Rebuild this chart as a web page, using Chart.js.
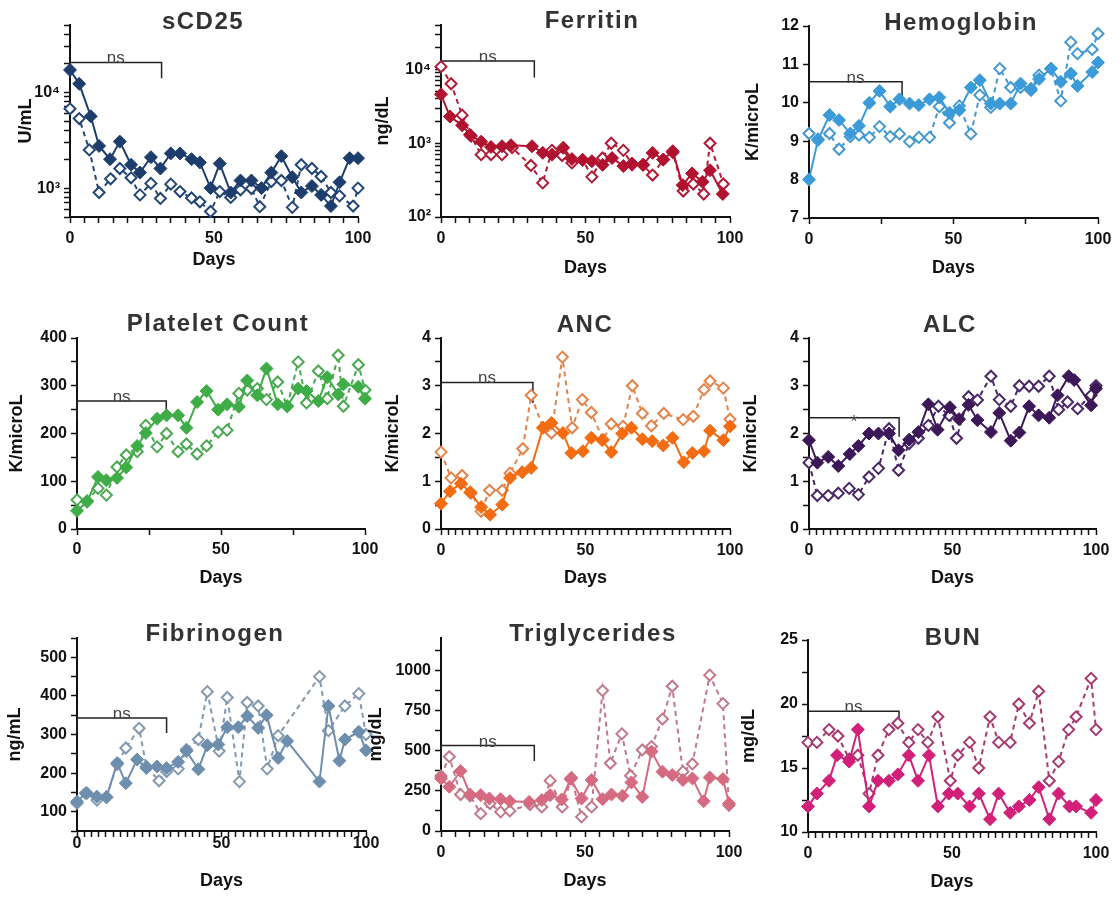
<!DOCTYPE html>
<html>
<head>
<meta charset="utf-8">
<title>Lab values over time</title>
<script src="https://cdn.jsdelivr.net/npm/chart.js@4.4.1/dist/chart.umd.min.js"></script>
<style>
  html, body { margin: 0; padding: 0; background: #fff; }
  body { position: relative; width: 1120px; height: 898px; overflow: hidden; }
  canvas { position: absolute; }
</style>
</head>
<body>
<script>
// x axis labels (days)
const dayLabels = [0, 50, 100];

// sCD25 (U/mL) - A = filled diamonds, B = open diamonds
const scdDaysA = [0, 3.2, 7.2, 10.1, 13.9, 17.3, 21.2, 24.3, 28.1, 31.4, 35.0, 38.2, 42.2, 45.1, 48.8, 52.0, 55.8, 59.2, 63.0, 66.5, 69.9, 73.4, 77.2, 80.3, 84.0, 87.2, 90.6, 93.6, 97.1, 100];
const scdA = [17000, 12200, 5600, 2750, 2000, 3050, 1750, 1450, 2100, 1600, 2300, 2300, 2000, 1850, 1000, 1800, 900, 1200, 1200, 1000, 1450, 2150, 1300, 900, 1050, 850, 650, 1150, 2050, 2050];
const scdDaysB = [0, 3.2, 6.7, 10.1, 14.1, 17.3, 21.2, 24.3, 28.1, 31.4, 35.0, 38.2, 42.2, 45.1, 48.8, 52.0, 55.8, 59.2, 63.0, 65.9, 69.9, 73.4, 77.2, 80.3, 84.0, 87.2, 90.6, 93.6, 98.3, 100];
const scdB = [6700, 5300, 2500, 900, 1250, 1600, 1280, 850, 1120, 780, 1100, 920, 790, 720, 570, 920, 800, 960, 990, 640, 1170, 1200, 630, 1750, 1600, 1320, 900, 830, 650, 1000];
const scdBracket = [31.8, 20400, 13900]; // end day, top, leg bottom

// Ferritin (ng/dL)
const ferDaysA = [0, 3.1, 7.3, 10.0, 13.9, 17.3, 21.1, 24.2, 31.5, 35.2, 38.4, 42.3, 45.3, 49.0, 52.2, 55.9, 59.2, 63.1, 66.1, 70.0, 73.2, 76.9, 80.2, 83.6, 86.9, 90.5, 93.1, 97.5];
const ferA = [4600, 2300, 1750, 1300, 1050, 890, 910, 940, 910, 740, 700, 870, 610, 590, 570, 510, 630, 490, 530, 510, 740, 600, 780, 270, 390, 300, 430, 205];
const ferDaysB = [0, 3.5, 7.3, 10.4, 13.9, 17.3, 21.1, 24.6, 31.1, 35.2, 38.4, 41.9, 45.3, 49.0, 52.2, 55.9, 58.9, 63.1, 66.1, 69.8, 73.2, 76.9, 80.2, 83.8, 87.3, 90.9, 93.1, 97.7];
const ferB = [10900, 6400, 2400, 1250, 700, 700, 700, 870, 500, 290, 800, 680, 540, 600, 350, 630, 1000, 800, 510, 510, 370, 600, 750, 225, 280, 205, 1000, 280];
const ferBracket = [32.3, 13000, 7800];

// Hemoglobin (K/microL)
const hgbDays = [0, 3.1, 7.1, 10.4, 14.3, 17.3, 20.9, 24.4, 28.1, 31.3, 34.8, 38.0, 41.7, 45.1, 48.6, 52.0, 56.0, 59.1, 62.9, 66.0, 69.8, 73.2, 76.8, 79.6, 83.7, 87.1, 90.6, 92.9, 98.0, 100];
const hgbA = [8.0, 9.03, 9.68, 9.55, 9.2, 9.4, 10.0, 10.31, 9.9, 10.09, 9.98, 9.94, 10.09, 10.14, 9.74, 9.81, 10.4, 10.59, 9.98, 9.98, 9.98, 10.5, 10.33, 10.62, 10.89, 10.55, 10.76, 10.44, 10.8, 11.05];
const hgbB = [9.2, 9.05, 9.2, 8.79, 9.12, 9.16, 9.1, 9.38, 9.12, 9.19, 8.99, 9.1, 9.1, 9.9, 9.48, 9.92, 9.19, 10.2, 9.88, 10.89, 10.4, 10.4, 10.37, 10.72, 10.89, 10.05, 11.58, 11.28, 11.39, 11.8];
const hgbBracket = [32.2, 10.55, 10.11];

// Platelet count (K/microL)
const pltDays = [0, 3.5, 7.3, 10.2, 13.9, 17.1, 20.9, 23.9, 27.8, 31.1, 35.1, 38.0, 41.7, 45.0, 49.0, 52.1, 56.2, 59.1, 62.6, 65.8, 69.7, 73.0, 76.8, 79.7, 83.8, 86.9, 90.7, 92.5, 97.7, 100];
const pltA = [38, 57, 109, 102, 107, 129, 174, 201, 231, 238, 238, 212, 266, 289, 250, 261, 256, 311, 280, 336, 261, 257, 294, 289, 268, 318, 282, 303, 298, 273];
const pltB = [61, 59, 85, 71, 130, 155, 162, 217, 172, 200, 162, 178, 157, 174, 203, 207, 284, 291, 294, 271, 308, 257, 350, 264, 331, 273, 364, 257, 344, 291];
const pltBracket = [31, 268, 226];

// ANC (K/microL)
const ancDaysA = [0, 3.1, 6.9, 10.1, 13.9, 17.0, 21.2, 23.9, 28.1, 31.2, 35.3, 38.2, 42.2, 45.1, 49.1, 52.0, 55.8, 58.9, 62.7, 65.9, 69.7, 73.1, 76.9, 80.1, 84.0, 87.0, 91.0, 93.1, 97.7, 100];
const ancA = [0.53, 0.79, 0.95, 0.77, 0.46, 0.30, 0.51, 1.07, 1.19, 1.28, 2.12, 2.22, 2.01, 1.59, 1.63, 1.91, 1.86, 1.61, 2.0, 2.12, 1.88, 1.84, 1.75, 1.91, 1.40, 1.59, 1.63, 2.06, 1.86, 2.15];
const ancDaysB = [0, 3.5, 7.3, 10.4, 13.9, 16.8, 21.2, 23.9, 28.3, 31.2, 35.3, 38.2, 42.0, 45.4, 48.9, 52.0, 56.1, 58.9, 63.0, 66.2, 69.7, 72.8, 77.1, 83.8, 87.3, 91.0, 93.1, 97.7, 100];
const ancB = [1.61, 1.07, 1.12, 0.75, 0.37, 0.81, 0.81, 1.17, 1.68, 2.8, 2.12, 2.01, 3.6, 2.12, 2.71, 2.44, 1.87, 2.2, 2.15, 3.0, 2.42, 2.16, 2.42, 2.29, 2.36, 2.92, 3.1, 2.95, 2.3];
const ancBracket = [31.8, 3.07, 2.64];

// ALC (K/microL)
const alcDaysA = [0, 2.9, 6.7, 10.2, 14.2, 17.2, 20.9, 24.2, 27.9, 31.2, 34.9, 38.1, 41.6, 44.8, 49.1, 52.3, 55.6, 58.7, 63.4, 66.3, 70.3, 73.3, 76.7, 80.0, 83.7, 86.6, 90.5, 92.4, 98.3, 100];
const alcA = [1.86, 1.39, 1.51, 1.32, 1.57, 1.74, 2.0, 2.0, 2.0, 1.65, 1.87, 2.03, 2.61, 2.08, 2.55, 2.3, 2.6, 2.28, 2.03, 2.43, 1.85, 2.02, 2.57, 2.38, 2.33, 2.8, 3.2, 3.12, 2.59, 2.94];
const alcDaysB = [0, 2.9, 6.7, 10.2, 14.0, 17.2, 20.9, 24.2, 27.9, 31.2, 34.9, 38.1, 41.6, 45.1, 48.8, 51.4, 55.6, 58.7, 63.4, 66.3, 70.3, 73.3, 76.7, 80.0, 83.7, 87.0, 90.1, 93.6, 98.3, 100];
const alcB = [1.39, 0.7, 0.7, 0.75, 0.85, 0.72, 1.09, 1.27, 2.1, 1.23, 1.79, 1.9, 2.17, 2.57, 2.38, 1.9, 2.77, 2.7, 3.2, 2.71, 2.57, 3.0, 2.99, 2.99, 3.2, 2.5, 2.66, 2.52, 2.8, 3.0];
const alcBracket = [31.4, 2.33, 1.93];

// Fibrinogen (ng/mL)
const fibDaysA = [0, 3.0, 6.9, 10.2, 13.9, 16.9, 20.8, 24.0, 27.7, 31.0, 35.0, 37.9, 42.0, 45.1, 48.9, 52.0, 55.8, 58.9, 62.7, 65.6, 69.6, 72.7, 83.9, 87.0, 90.8, 92.7, 97.5, 100];
const fibA = [126, 148, 139, 137, 226, 174, 235, 213, 217, 213, 229, 257, 210, 272, 274, 319, 319, 348, 317, 350, 239, 283, 178, 374, 232, 287, 307, 259];
const fibDaysB = [0, 3.5, 6.9, 10.2, 13.9, 16.9, 21.5, 24.0, 28.4, 31.0, 35.0, 37.9, 42.0, 45.1, 49.2, 52.0, 56.2, 58.9, 62.7, 65.8, 69.6, 83.9, 87.0, 92.7, 97.5, 100];
const fibB = [122, 148, 130, 139, 223, 265, 316, 217, 180, 204, 211, 261, 287, 411, 257, 396, 178, 383, 374, 211, 297, 450, 310, 374, 406, 300];
const fibBracket = [31, 343, 304];

// Triglycerides (mg/dL)
const tgDaysA = [0, 2.9, 6.8, 10.1, 13.8, 16.8, 20.7, 23.9, 30.6, 35.0, 37.9, 41.9, 45.0, 48.8, 52.3, 56.1, 59.2, 63.0, 66.1, 69.9, 73.1, 76.9, 80.3, 84.0, 87.3, 91.2, 93.3, 97.9, 100];
const tgA = [327, 275, 373, 227, 223, 202, 198, 185, 181, 192, 223, 196, 323, 202, 317, 198, 227, 219, 302, 212, 494, 369, 348, 317, 327, 185, 333, 323, 171];
const tgDaysB = [0, 2.9, 6.8, 10.1, 13.8, 17.0, 20.7, 23.9, 30.9, 35.0, 37.9, 42.1, 45.3, 48.8, 52.3, 56.1, 58.8, 62.8, 65.8, 69.9, 73.1, 76.9, 80.3, 84.0, 87.3, 93.3, 97.9, 100];
const tgB = [342, 462, 227, 219, 108, 171, 119, 125, 165, 150, 313, 150, 331, 88, 150, 873, 421, 604, 344, 504, 525, 696, 900, 369, 417, 969, 792, 160];
const tgBracket = [32.4, 531, 435];

// BUN (mg/dL)
const bunDaysA = [0, 3.1, 7.3, 10.1, 14.3, 17.3, 21.2, 24.3, 28.1, 31.2, 35.0, 38.2, 42.0, 45.1, 48.9, 52.0, 56.1, 59.3, 63.2, 66.2, 70.2, 73.2, 76.9, 80.1, 83.8, 87.0, 90.8, 93.1, 98.3, 100];
const bunA = [12, 13, 14, 16, 15.5, 18, 12, 14, 14, 14.5, 16, 14, 16, 12, 13, 13, 12, 13, 11, 13, 11.5, 12, 12.5, 13.5, 11, 13, 12, 12, 11.5, 12.5];
const bunDaysB = [0, 3.1, 7.3, 10.4, 14.3, 17.3, 21.2, 24.3, 28.1, 31.2, 35.0, 38.2, 41.6, 45.1, 49.4, 52.0, 56.1, 59.3, 63.2, 66.2, 70.2, 73.2, 76.9, 80.1, 83.8, 87.0, 90.5, 93.1, 98.3, 100];
const bunB = [17, 17, 18, 17.5, 15.7, 16, 13, 16, 18, 18.5, 17, 18, 17, 19, 14, 16, 17, 15, 19, 17, 17, 20, 18.5, 21, 14, 15.5, 18, 19, 22, 18];
const bunBracket = [31.6, 19.44, 18.2];

const FONT = '"Liberation Sans", Arial, Helvetica, sans-serif';
Chart.defaults.font.family = FONT;
Chart.defaults.color = '#111';

// panel setup; box = plot area on the page [left, top, right, bottom]
const panels = [
  { title: 'sCD25', unit: 'U/mL', color: '#1d3e6c', colorB: '#244675',
    daysA: scdDaysA, valsA: scdA, daysB: scdDaysB, valsB: scdB, bracket: scdBracket, note: 'ns',
    log: true, yMin: 500, yMax: 50000, xMinor: 5,
    box: [70, 25, 358, 217], titleAt: [203, 20], yGap: 44, xLabOff: 22, daysOff: 43 },
  { title: 'Ferritin', unit: 'ng/dL', color: '#b11230', colorB: '#b11a36',
    daysA: ferDaysA, valsA: ferA, daysB: ferDaysB, valsB: ferB, bracket: ferBracket, note: 'ns',
    log: true, yMin: 100, yMax: 40000, xMinor: 5,
    box: [441, 25, 730, 217], titleAt: [592, 19], yGap: 58, xLabOff: 22, daysOff: 51 },
  { title: 'Hemoglobin', unit: 'K/microL', color: '#3b9bd8', colorB: '#4298cf',
    daysA: hgbDays, valsA: hgbA, daysB: hgbDays, valsB: hgbB, bracket: hgbBracket, note: 'ns',
    yMin: 7, yMax: 12, yMajor: 1, yMinor: 1, xMinor: 25,
    box: [809, 26, 1098, 218], titleAt: [961, 21], yGap: 56, xLabOff: 22, daysOff: 50 },
  { title: 'Platelet Count', unit: 'K/microL', color: '#3ead47', colorB: '#4aa852',
    daysA: pltDays, valsA: pltA, daysB: pltDays, valsB: pltB, bracket: pltBracket, note: 'ns',
    yMin: 0, yMax: 400, yMajor: 100, yMinor: 50, xMinor: 25,
    box: [77, 338, 365, 529], titleAt: [218, 322], yGap: 60, xLabOff: 21, daysOff: 49 },
  { title: 'ANC', unit: 'K/microL', color: '#f36c12', colorB: '#e2834a',
    daysA: ancDaysA, valsA: ancA, daysB: ancDaysB, valsB: ancB, bracket: ancBracket, note: 'ns',
    yMin: 0, yMax: 4, yMajor: 1, yMinor: 0.5, xMinor: 2.5,
    box: [441, 338, 730, 529], titleAt: [585, 323], yGap: 48, xLabOff: 22, daysOff: 49 },
  { title: 'ALC', unit: 'K/microL', color: '#3d1859', colorB: '#4a2766',
    daysA: alcDaysA, valsA: alcA, daysB: alcDaysB, valsB: alcB, bracket: alcBracket, note: '*',
    yMin: 0, yMax: 4, yMajor: 1, yMinor: 0.5, xMinor: 2.5,
    box: [809, 338, 1096, 529], titleAt: [950, 323], yGap: 58, xLabOff: 22, daysOff: 49 },
  { title: 'Fibrinogen', unit: 'ng/mL', color: '#6e8eae', colorB: '#8399b0',
    daysA: fibDaysA, valsA: fibA, daysB: fibDaysB, valsB: fibB, bracket: fibBracket, note: 'ns',
    yMin: 50, yMax: 550, yMajor: 100, yMinor: 50, xMinor: 2.5,
    box: [77, 638, 366, 831], titleAt: [215, 632], yGap: 62, xLabOff: 13, daysOff: 50 },
  { title: 'Triglycerides', unit: 'mg/dL', color: '#d56a80', colorB: '#c0788a',
    daysA: tgDaysA, valsA: tgA, daysB: tgDaysB, valsB: tgB, bracket: tgBracket, note: 'ns',
    yMin: 0, yMax: 1200, yMajor: 250, yMinor: 125, xMinor: 5,
    box: [441, 638, 729, 831], titleAt: [593, 632], yGap: 65, xLabOff: 22, daysOff: 50 },
  { title: 'BUN', unit: 'mg/dL', color: '#d21f79', colorB: '#a63a70',
    daysA: bunDaysA, valsA: bunA, daysB: bunDaysB, valsB: bunB, bracket: bunBracket, note: 'ns',
    yMin: 10, yMax: 25, yMajor: 5, yMinor: 2.5, xMinor: 2.5,
    box: [808, 640, 1096, 832], titleAt: [953, 636], yGap: 59, xLabOff: 22, daysOff: 50 }
];

const WY = 80;    // fixed y axis box width
const HX = 62;    // fixed x axis box height
const PADT = 42;  // room above plot for the title
const PADR = 24;

const SUP = { '2': '\u00b2', '3': '\u00b3', '4': '\u2074' };

function linTicks(min, max, step) {
  const out = [];
  for (let v = min; v <= max + 1e-9; v += step) out.push(+v.toFixed(6));
  return out;
}
function logTicks(min, max) {
  const out = [];
  for (let e = Math.floor(Math.log10(min)); e <= Math.ceil(Math.log10(max)); e++) {
    for (let m = 1; m < 10; m++) {
      const v = m * Math.pow(10, e);
      if (v >= min - 1e-9 && v <= max + 1e-9) out.push(v);
    }
  }
  return out;
}
function pts(days, vals) {
  return days.map((d, i) => ({ x: d, y: vals[i] }));
}

// panel title, drawn over the plot centre
const titlePlugin = {
  id: 'panelTitle',
  afterDraw(chart, args, opts) {
    const ctx = chart.ctx;
    ctx.save();
    ctx.font = 'bold 24px ' + FONT;
    ctx.fillStyle = '#333';
    ctx.textAlign = 'center';
    ctx.textBaseline = 'alphabetic';
    if ('letterSpacing' in ctx) ctx.letterSpacing = '1.5px';
    ctx.fillText(opts.text, opts.x, opts.y + 8.6);
    ctx.restore();
  }
};

// "ns" / "*" above the bracket
const notePlugin = {
  id: 'bracketNote',
  afterDatasetsDraw(chart, args, opts) {
    const { x, y } = chart.scales;
    const ctx = chart.ctx;
    ctx.save();
    ctx.font = '17px ' + FONT;
    ctx.fillStyle = '#444';
    ctx.textAlign = 'center';
    ctx.textBaseline = 'alphabetic';
    ctx.fillText(opts.text, x.getPixelForValue(opts.xEnd / 2), y.getPixelForValue(opts.yTop) + (opts.text === '*' ? 9 : 1));
    ctx.restore();
  }
};

panels.forEach(p => {
  const [left, top, right, bottom] = p.box;
  const W = WY + (right - left) + PADR;
  const H = PADT + (bottom - top) + HX;
  const cLeft = left - WY, cTop = top - PADT;

  const cv = document.createElement('canvas');
  cv.width = W; cv.height = H;
  cv.style.left = cLeft + 'px';
  cv.style.top = cTop + 'px';
  cv.style.width = W + 'px';
  cv.style.height = H + 'px';
  document.body.appendChild(cv);

  const yTickVals = p.log ? logTicks(p.yMin, p.yMax) : linTicks(p.yMin, p.yMax, p.yMinor);
  const xTickVals = linTicks(0, 100, p.xMinor);
  const [bEnd, bTop, bLow] = p.bracket;

  const axisGrid = { display: true, drawOnChartArea: false, drawTicks: true, tickLength: 6, tickColor: '#111', tickWidth: 1.5 };

  new Chart(cv, {
    type: 'line',
    data: {
      datasets: [
        {
          data: pts(p.daysA, p.valsA),
          borderColor: p.color, backgroundColor: p.color,
          borderWidth: 2, tension: 0,
          pointStyle: 'rectRot', pointRadius: 6.5, pointBorderWidth: 1,
          pointBackgroundColor: p.color, pointBorderColor: p.color,
          clip: false
        },
        {
          data: pts(p.daysB, p.valsB),
          borderColor: p.colorB, backgroundColor: '#fff',
          borderWidth: 2, borderDash: [5, 4], tension: 0,
          pointStyle: 'rectRot', pointRadius: 5.5, pointBorderWidth: 2,
          pointBackgroundColor: '#fff', pointBorderColor: p.colorB,
          clip: false
        },
        {
          data: [{ x: 0, y: bLow }, { x: 0, y: bTop }, { x: bEnd, y: bTop }, { x: bEnd, y: bLow }],
          borderColor: '#222', borderWidth: 1.5, pointRadius: 0, tension: 0, clip: false
        }
      ]
    },
    options: {
      responsive: false,
      animation: false,
      events: [],
      layout: { padding: { left: 0, top: PADT, right: PADR, bottom: 0 } },
      plugins: {
        legend: { display: false },
        tooltip: { enabled: false },
        panelTitle: { text: p.title, x: p.titleAt[0] - cLeft, y: p.titleAt[1] - cTop },
        bracketNote: { text: p.note, xEnd: bEnd, yTop: bTop }
      },
      scales: {
        x: {
          type: 'linear', min: 0, max: 100,
          border: { display: true, color: '#111', width: 2 },
          grid: axisGrid,
          afterBuildTicks: s => { s.ticks = xTickVals.map(v => ({ value: v })); },
          afterFit: s => { s.height = HX; s.paddingLeft = 0; s.paddingRight = 0; },
          ticks: {
            autoSkip: false, maxRotation: 0,
            padding: p.xLabOff - 15.6,
            font: { size: 16, weight: 'bold' }, color: '#111',
            callback: v => dayLabels.includes(v) ? String(v) : ''
          },
          title: {
            display: true, text: 'Days', color: '#111',
            font: { size: 18, weight: 'bold' },
            padding: { top: 0, bottom: HX - p.daysOff - 10.8 }
          }
        },
        y: {
          type: p.log ? 'logarithmic' : 'linear',
          min: p.yMin, max: p.yMax,
          border: { display: true, color: '#111', width: 2 },
          grid: axisGrid,
          afterBuildTicks: s => { s.ticks = yTickVals.map(v => ({ value: v })); },
          afterFit: s => { s.width = WY; s.paddingTop = 0; s.paddingBottom = 0; },
          ticks: {
            autoSkip: false, padding: 4,
            font: { size: 16, weight: 'bold' }, color: '#111',
            callback: v => {
              if (p.log) {
                const e = Math.log10(v);
                return Math.abs(e - Math.round(e)) < 1e-9 ? '10' + SUP[String(Math.round(e))] : '';
              }
              const r = v / p.yMajor;
              return Math.abs(r - Math.round(r)) < 1e-6 ? String(v) : '';
            }
          },
          title: {
            display: true, text: p.unit, color: '#111',
            font: { size: 18, weight: 'bold' },
            padding: { top: WY - p.yGap - 10.8, bottom: 0 }
          }
        }
      }
    },
    plugins: [titlePlugin, notePlugin]
  });
});
</script>
</body>
</html>
